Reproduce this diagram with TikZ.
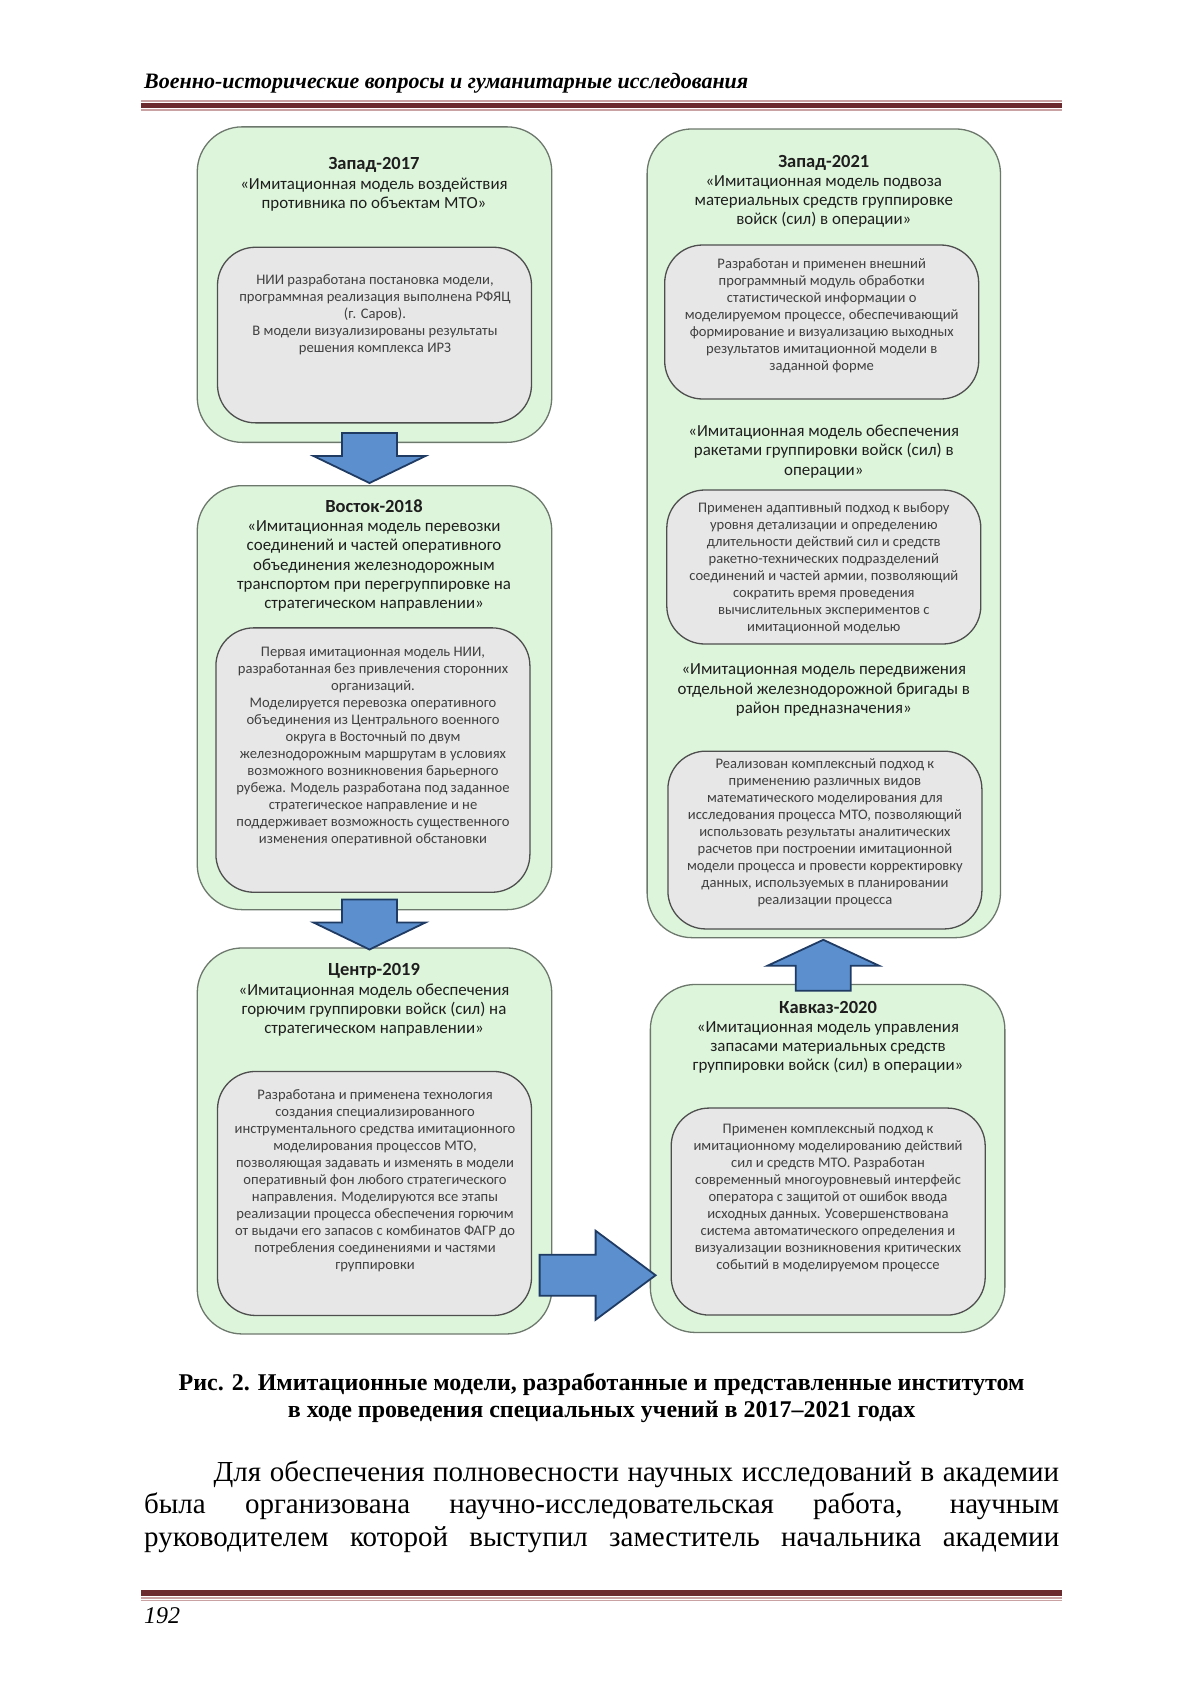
\documentclass[tikz,border=0pt]{standalone}
\usepackage{fontspec}
\setmainfont{Liberation Serif}
\newfontfamily\boxfont{Carlito}
\usetikzlibrary{positioning,calc}

\definecolor{outerfill}{HTML}{DDF5DA}
\definecolor{outerline}{HTML}{6D786D}
\definecolor{innerfill}{HTML}{E7E7E7}
\definecolor{innerline}{HTML}{4E4E4E}
\definecolor{arrowfill}{HTML}{5B8FCD}
\definecolor{arrowline}{HTML}{1F3B63}
\definecolor{titletext}{HTML}{1E1E1E}
\definecolor{notetext}{HTML}{404040}
\definecolor{rulemain}{HTML}{6B2B2E}
\definecolor{rulelight}{HTML}{C9A3A3}

\tikzstyle{outerbox} = [rectangle, rounded corners=45pt, draw=outerline, fill=outerfill, line width=1.3pt, inner sep=0pt, minimum width=354.5pt]
\tikzstyle{innerbox} = [rectangle, rounded corners=38pt, draw=innerline, fill=innerfill, line width=1.3pt, inner sep=0pt, minimum width=314pt]
\tikzstyle{boxtitle} = [align=center, text=titletext, inner sep=0pt, font=\boxfont\fontsize{16.9}{19.2}\selectfont]
\tikzstyle{boxnote} = [align=center, text=notetext, inner sep=0pt, font=\boxfont\fontsize{14.6}{17}\selectfont]
\tikzstyle{blockarrow} = [draw=arrowline, fill=arrowfill, line width=1.8pt, line join=miter]
\newcommand{\exname}[1]{{\fontsize{18.5}{19.2}\selectfont\bfseries #1}}

\begin{document}
\begin{tikzpicture}[x=1pt, y=-1pt]
	\useasboundingbox (0,0) rectangle (1200,1697);
	\fill[white] (0,0) rectangle (1200,1697);

	% running head
	\node (head) [anchor=west, inner sep=0pt, font=\fontsize{22}{26}\selectfont\bfseries\itshape] at (144,83.5) {Военно-исторические вопросы и гуманитарные исследования};
	\fill[rulelight] (141,100) rectangle (1062,101.5);
	\fill[rulemain] (141,102.5) rectangle (1062,108);
	\fill[rulelight] (141,109) rectangle (1062,110.5);

	% left column
	\node (z17) [outerbox, minimum height=315.5pt] at (374.5,284.6) {};
	\node (z17in) [innerbox, minimum height=175.6pt, anchor=south] at ([yshift=19.5pt]z17.south) {};
	\node (z18) [outerbox, minimum height=424pt, below=42pt of z17] {};
	\node (z18in) [innerbox, minimum height=264.4pt, anchor=south] at ([xshift=-1.6pt,yshift=17.4pt]z18.south) {};
	\node (c19) [outerbox, minimum height=386pt, below=37pt of z18] {};
	\node (c19in) [innerbox, minimum height=244pt, anchor=south] at ([yshift=18.5pt]c19.south) {};

	% right column
	\node (z21) [outerbox, minimum width=353.4pt, minimum height=808.7pt] at (823.8,533.3) {};
	\node (z21a) [innerbox, minimum height=154pt] at (821.7,322) {};
	\node (z21b) [innerbox, minimum height=154pt] at (823.8,567) {};
	\node (z21c) [innerbox, minimum height=177.8pt, anchor=south] at ([xshift=1.1pt,yshift=8.7pt]z21.south) {};
	\node (k20) [outerbox, minimum height=348pt, below=45.5pt of z21, xshift=3.8pt] {};
	\node (k20in) [innerbox, minimum height=207pt, anchor=south] at ([xshift=0.6pt,yshift=17.4pt]k20.south) {};

	% texts
	\node (t17) [boxtitle] at (374,184.3) {\exname{Запад-2017}\\«Имитационная модель воздействия\\противника по объектам МТО»};
	\node (n17) [boxnote] at (375,314.4) {НИИ разработана постановка модели,\\программная реализация выполнена РФЯЦ\\(г. Саров).\\В модели визуализированы результаты\\решения комплекса ИРЗ};

	\node (t18) [boxtitle] at (374,555.5) {\exname{Восток-2018}\\«Имитационная модель перевозки\\соединений и частей оперативного\\объединения железнодорожным\\транспортом при перегруппировке на\\стратегическом направлении»};
	\node (n18) [boxnote] at (373,746.9) {Первая имитационная модель НИИ,\\разработанная без привлечения сторонних\\организаций.\\Моделируется перевозка оперативного\\объединения из Центрального военного\\округа в Восточный по двум\\железнодорожным маршрутам в условиях\\возможного возникновения барьерного\\рубежа. Модель разработана под заданное\\стратегическое направление и не\\поддерживает возможность существенного\\изменения оперативной обстановки};

	\node (t19) [boxtitle] at (374,1000) {\exname{Центр-2019}\\«Имитационная модель обеспечения\\горючим группировки войск (сил) на\\стратегическом направлении»};
	\node (n19) [boxnote] at (375,1180.5) {Разработана и применена технология\\создания специализированного\\инструментального средства имитационного\\моделирования процессов МТО,\\позволяющая задавать и изменять в модели\\оперативный фон любого стратегического\\направления. Моделируются все этапы\\реализации процесса обеспечения горючим\\от выдачи его запасов с комбинатов ФАГР до\\потребления соединениями и частями\\группировки};

	\node (t20) [boxtitle] at (828,1037.4) {\exname{Кавказ-2020}\\«Имитационная модель управления\\запасами материальных средств\\группировки войск (сил) в операции»};
	\node (n20) [boxnote] at (828,1197.3) {Применен комплексный подход к\\имитационному моделированию действий\\сил и средств МТО. Разработан\\современный многоуровневый интерфейс\\оператора с защитой от ошибок ввода\\исходных данных. Усовершенствована\\система автоматического определения и\\визуализации возникновения критических\\событий в моделируемом процессе};

	\node (t21) [boxtitle] at (823.8,191.3) {\exname{Запад-2021}\\«Имитационная модель подвоза\\материальных средств группировке\\войск (сил) в операции»};
	\node (n21a) [boxnote] at (821.7,316) {Разработан и применен внешний\\программный модуль обработки\\статистической информации о\\моделируемом процессе, обеспечивающий\\формирование и визуализацию выходных\\результатов имитационной модели в\\заданной форме};
	\node (t21b) [boxtitle] at (823.8,451.5) {«Имитационная модель обеспечения\\ракетами группировки войск (сил) в\\операции»};
	\node (n21b) [boxnote] at (823.8,568) {Применен адаптивный подход к выбору\\уровня детализации и определению\\длительности действий сил и средств\\ракетно-технических подразделений\\соединений и частей армии, позволяющий\\сократить время проведения\\вычислительных экспериментов с\\имитационной моделью};
	\node (t21c) [boxtitle] at (823.8,690) {«Имитационная модель передвижения\\отдельной железнодорожной бригады в\\район предназначения»};
	\node (n21c) [boxnote] at (824.9,832.5) {Реализован комплексный подход к\\применению различных видов\\математического моделирования для\\исследования процесса МТО, позволяющий\\использовать результаты аналитических\\расчетов при построении имитационной\\модели процесса и провести корректировку\\данных, используемых в планировании\\реализации процесса};

	% block arrows
	\coordinate (a1) at ([xshift=-5pt,yshift=10pt]z17.south);
	\coordinate (a2) at ([xshift=-5pt,yshift=10.8pt]z18.south);
	\coordinate (a3) at ([xshift=-12.8pt,yshift=-134.3pt]c19.east);
	\coordinate (a4) at ([xshift=-4.3pt,yshift=-7pt]k20.north);
	\draw [blockarrow] (a1) ++(-27.5,0) -- ++(55,0) -- ++(0,23) -- ++(28.5,0) -- ++(-56,27) -- ++(-56,-27) -- ++(28.5,0) -- cycle;
	\draw [blockarrow] (a2) ++(-27.5,0) -- ++(55,0) -- ++(0,23) -- ++(28.5,0) -- ++(-56,27) -- ++(-56,-27) -- ++(28.5,0) -- cycle;
	\draw [blockarrow] (a3) ++(0,-20.5) -- ++(56,0) -- ++(0,-24) -- ++(60,44.5) -- ++(-60,44.5) -- ++(0,-24) -- ++(-56,0) -- cycle;
	\draw [blockarrow] (a4) ++(-27.5,0) -- ++(0,-25) -- ++(-28.5,0) -- ++(56,-26) -- ++(56,26) -- ++(-28.5,0) -- ++(0,25) -- cycle;

	% caption and text
	\node (caption) [align=center, inner sep=0pt, font=\fontsize{24}{27.1}\selectfont\bfseries] at (601.6,1397.8) {Рис. 2. Имитационные модели, разработанные и представленные институтом\\в ходе проведения специальных учений в 2017–2021 годах};
	\node (body) [anchor=base west, inner sep=0pt, text width=915pt, align=justify, font=\fontsize{29}{32.5}\selectfont] at (144,1481) {{\parfillskip=0pt\relax\hspace*{69.5pt}Для обеспечения полновесности научных исследований в академии\linebreak была организована научно-исследовательская работа, научным\linebreak руководителем которой выступил заместитель начальника академии\par}};

	% foot
	\fill[rulemain] (141,1590) rectangle (1062,1596);
	\fill[rulelight] (141,1597) rectangle (1062,1598.5);
	\fill[rulelight] (141,1599.5) rectangle (1062,1601);
	\node (page) [anchor=west, inner sep=0pt, font=\fontsize{24}{28}\selectfont\itshape] at (144,1616) {192};
\end{tikzpicture}
\end{document}
